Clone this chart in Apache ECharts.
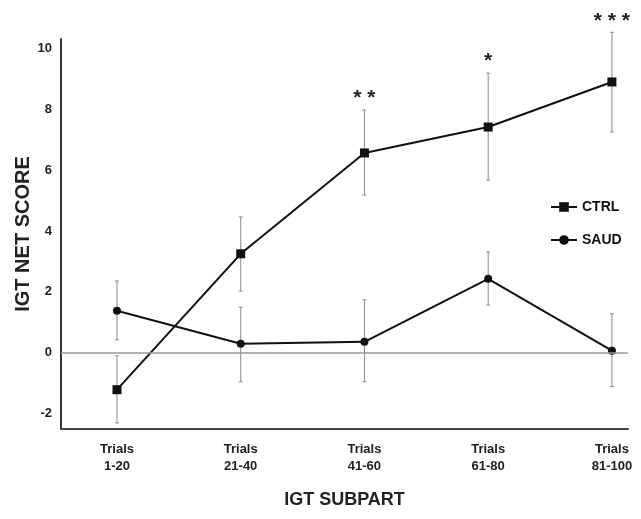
<!DOCTYPE html>
<html>
<head>
<meta charset="utf-8">
<script src="https://cdn.jsdelivr.net/npm/echarts@6/dist/echarts.min.js"></script>
<style>
  html, body { margin: 0; padding: 0; background: #fff; }
  #chart { width: 641px; height: 519px; }
</style>
</head>
<body>
<div id="chart"></div>
<script>
// IGT net score per block of 20 trials
var categories = ['Trials\n1-20', 'Trials\n21-40', 'Trials\n41-60', 'Trials\n61-80', 'Trials\n81-100'];

var ctrlMean = [-1.21, 3.25, 6.56, 7.41, 8.89];
var ctrlLow = [-2.30, 2.03, 5.18, 5.67, 7.25];
var ctrlHigh = [-0.10, 4.46, 7.97, 9.18, 10.52];

var saudMean = [1.38, 0.30, 0.36, 2.43, 0.07];
var saudLow = [0.43, -0.95, -0.95, 1.57, -1.11];
var saudHigh = [2.36, 1.50, 1.74, 3.31, 1.28];

var significance = ['', '', '**', '*', '***'];

var yTicks = [-2, 0, 2, 4, 6, 8, 10];

function toPoints(arr) {
    return arr.map(function (v, i) { return [i, v]; });
}

function toBars(low, high, marks) {
    return low.map(function (v, i) { return [i, v, high[i], marks ? marks[i] : '']; });
}

function renderErrorBar(params, api) {
    var x = api.value(0);
    var lo = api.coord([x, api.value(1)]);
    var hi = api.coord([x, api.value(2)]);
    var mark = api.value(3);
    var style = { stroke: '#8a8a8a', lineWidth: 1 };
    var children = [
        { type: 'line', shape: { x1: lo[0], y1: lo[1], x2: hi[0], y2: hi[1] }, style: style },
        { type: 'line', shape: { x1: lo[0] - 2, y1: lo[1], x2: lo[0] + 2, y2: lo[1] }, style: style },
        { type: 'line', shape: { x1: hi[0] - 2, y1: hi[1], x2: hi[0] + 2, y2: hi[1] }, style: style }
    ];
    if (mark) {
        children.push({
            type: 'text',
            x: hi[0],
            y: hi[1] - 1,
            style: {
                text: String(mark).split('').join(' '),
                fill: '#222',
                font: 'bold 21px "Liberation Sans"',
                align: 'center',
                verticalAlign: 'bottom'
            }
        });
    }
    return { type: 'group', children: children };
}

var chart = echarts.init(document.getElementById('chart'));

var option = {
    backgroundColor: '#fff',
    animation: false,
    grid: { left: 61, right: 13, top: 39, bottom: 90, outerBoundsMode: 'none' },
    legend: {
        orient: 'vertical',
        left: 545,
        top: 195,
        itemWidth: 26,
        itemHeight: 12,
        itemGap: 19,
        textStyle: { fontFamily: 'Liberation Sans', fontWeight: 'bold', fontSize: 14, color: '#111' },
        data: ['CTRL', 'SAUD']
    },
    xAxis: {
        type: 'value',
        min: -0.4525,
        max: 4.13,
        name: 'IGT SUBPART',
        nameLocation: 'middle',
        nameGap: 62,
        nameMoveOverlap: false,
        nameTextStyle: { fontFamily: 'Liberation Sans', fontWeight: 'bold', fontSize: 18, color: '#222' },
        axisLine: { onZero: false, lineStyle: { color: '#444', width: 2 } },
        axisTick: { show: false },
        splitLine: { show: false },
        axisLabel: {
            margin: 12,
            fontFamily: 'Liberation Sans',
            fontWeight: 'bold',
            fontSize: 13,
            lineHeight: 17,
            color: '#222',
            showMinLabel: false,
            showMaxLabel: false,
            formatter: function (v) {
                return Number.isInteger(v) && categories[v] ? categories[v] : '';
            }
        }
    },
    yAxis: {
        type: 'value',
        min: -2.5,
        max: 10.3,
        splitNumber: 6,
        name: 'IGT NET SCORE',
        nameLocation: 'middle',
        nameGap: 28,
        nameMoveOverlap: false,
        nameTextStyle: { fontFamily: 'Liberation Sans', fontWeight: 'bold', fontSize: 20, color: '#222' },
        axisLine: { show: true, onZero: false, lineStyle: { color: '#333', width: 2 } },
        axisTick: { show: false },
        splitLine: { show: false },
        axisLabel: {
            margin: 9,
            fontFamily: 'Liberation Sans',
            fontWeight: 'bold',
            fontSize: 13,
            color: '#222',
            showMinLabel: false,
            showMaxLabel: false,
            formatter: function (v) {
                return yTicks.indexOf(v) >= 0 ? String(v) : '';
            }
        }
    },
    series: [
        {
            name: 'CTRL err',
            type: 'custom',
            renderItem: renderErrorBar,
            data: toBars(ctrlLow, ctrlHigh, significance),
            z: 1,
            silent: true
        },
        {
            name: 'SAUD err',
            type: 'custom',
            renderItem: renderErrorBar,
            data: toBars(saudLow, saudHigh),
            z: 1,
            silent: true
        },
        {
            name: 'CTRL',
            type: 'line',
            data: toPoints(ctrlMean),
            symbol: 'rect',
            symbolSize: 9,
            color: '#111',
            lineStyle: { color: '#111', width: 2 },
            itemStyle: { color: '#111' },
            z: 3,
            markLine: {
                silent: true,
                symbol: 'none',
                label: { show: false },
                lineStyle: { color: '#999', width: 1.5, type: 'solid' },
                data: [{ yAxis: 0 }]
            }
        },
        {
            name: 'SAUD',
            type: 'line',
            data: toPoints(saudMean),
            symbol: 'circle',
            symbolSize: 8,
            color: '#111',
            lineStyle: { color: '#111', width: 2 },
            itemStyle: { color: '#111' },
            z: 3
        }
    ]
};

chart.setOption(option);
</script>
</body>
</html>
